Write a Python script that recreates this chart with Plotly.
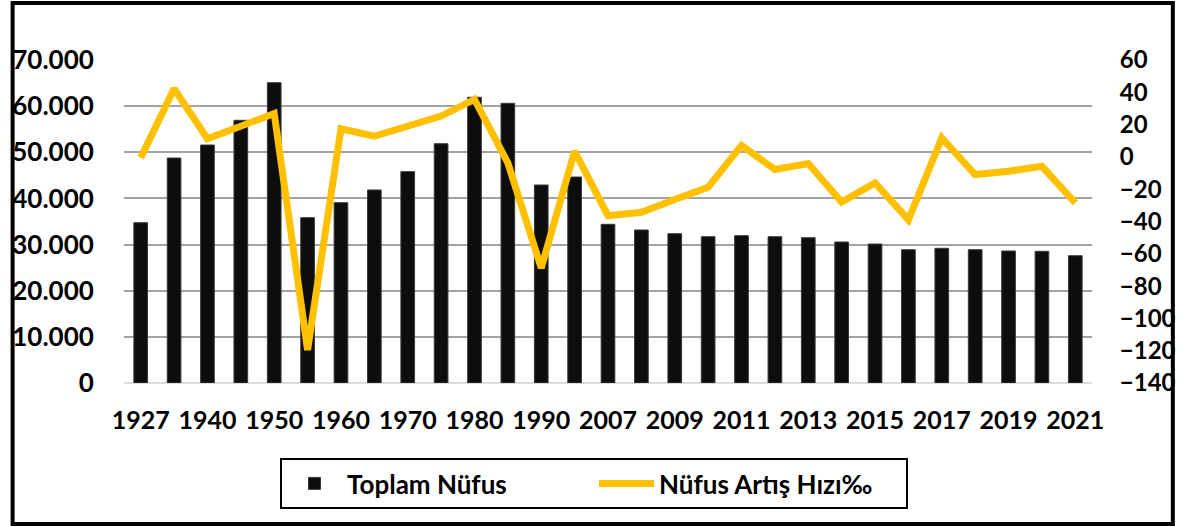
import plotly.graph_objects as go

years = ["1927", "1935", "1940", "1945", "1950", "1955", "1960", "1965", "1970", "1975",
         "1980", "1985", "1990", "2000", "2007", "2008", "2009", "2010", "2011", "2012",
         "2013", "2014", "2015", "2016", "2017", "2018", "2019", "2020", "2021"]

toplam_nufus = [34740, 48760, 51580, 56930, 65080, 35830, 39080, 41830, 45800, 51860,
                61920, 60610, 42910, 44640, 34390, 33160, 32360, 31710, 31930, 31710,
                31490, 30560, 30120, 28890, 29190, 28890, 28610, 28540, 27590]

artis_hizi = [-0.6, 42.2, 11.2, 19.5, 26.9, -119.5, 17.4, 12.8, 18.7, 25.3,
              35.6, -3.7, -68.8, 3.5, -36.4, -34.3, -26.4, -18.8, 7.1, -7.8,
              -4.1, -27.9, -16.1, -38.9, 11.8, -10.9, -8.9, -5.8, -28.5]

tick_years = years[::2]

FONT = "Lato"
W, H = 1188, 526
L, R, T, B = 120, 86, 60, 143

fig = go.Figure()
fig.add_trace(go.Bar(
    x=years, y=toplam_nufus, name="Toplam Nüfus",
    marker=dict(color="#0D0D0D", line=dict(color="#3A3A3A", width=1)),
    yaxis="y",
))
fig.add_trace(go.Scatter(
    x=years, y=artis_hizi, name="Nüfus Artış Hızı‰", mode="lines",
    line=dict(color="#FFC000", width=7),
    yaxis="y2",
))

pw = W - L - R
ph = H - T - B
fx = lambda px: (px - L) / pw
fy = lambda py: (H - B - py) / ph

fig.update_layout(
    width=W, height=H,
    margin=dict(l=L, r=R, t=T, b=B, pad=0),
    paper_bgcolor="white", plot_bgcolor="white",
    separators=",.",
    bargap=0.59,
    font=dict(family=FONT, size=25, color="black"),
    xaxis=dict(
        type="category", tickmode="array", tickvals=tick_years, ticktext=tick_years,
        showgrid=False, showline=False, zeroline=False,
        ticks="outside", ticklen=15, tickcolor="rgba(0,0,0,0)",
        tickfont=dict(family=FONT, size=25, color="black", weight="bold"),
        tickangle=0,
    ),
    yaxis=dict(
        range=[0, 70000], dtick=10000, tickformat=",d",
        showgrid=True, gridcolor="#A3A3A3", gridwidth=2,
        zeroline=True, zerolinecolor="#DCDCDC", zerolinewidth=2,
        showline=False,
        ticks="outside", ticklen=24, tickcolor="rgba(0,0,0,0)",
        tickfont=dict(family=FONT, size=26, color="black", weight="bold"),
    ),
    yaxis2=dict(
        range=[-140, 60], dtick=20, overlaying="y", side="right",
        showgrid=False, zeroline=False, showline=False,
        ticks="outside", ticklen=22, tickcolor="rgba(0,0,0,0)",
        tickfont=dict(family=FONT, size=24, color="black", weight="bold"),
    ),
    legend=dict(
        orientation="h", xref="container", yref="container",
        x=0.5, xanchor="center", y=1 - 458 / H, yanchor="top",
        bordercolor="black", borderwidth=2, bgcolor="white",
        font=dict(family=FONT, size=26, color="black", weight="bold"),
        itemwidth=55, entrywidth=242, traceorder="normal",
    ),
    showlegend=True,
    shapes=[dict(
        type="rect", xref="paper", yref="paper",
        x0=fx(7), x1=fx(1184), y0=fy(524), y1=fy(3),
        line=dict(color="black", width=4), fillcolor="rgba(0,0,0,0)", layer="above",
    )],
)

fig.write_html("out.html", config={"displayModeBar": False},
               post_script="document.body.style.margin='0';document.body.style.overflow='hidden';")
